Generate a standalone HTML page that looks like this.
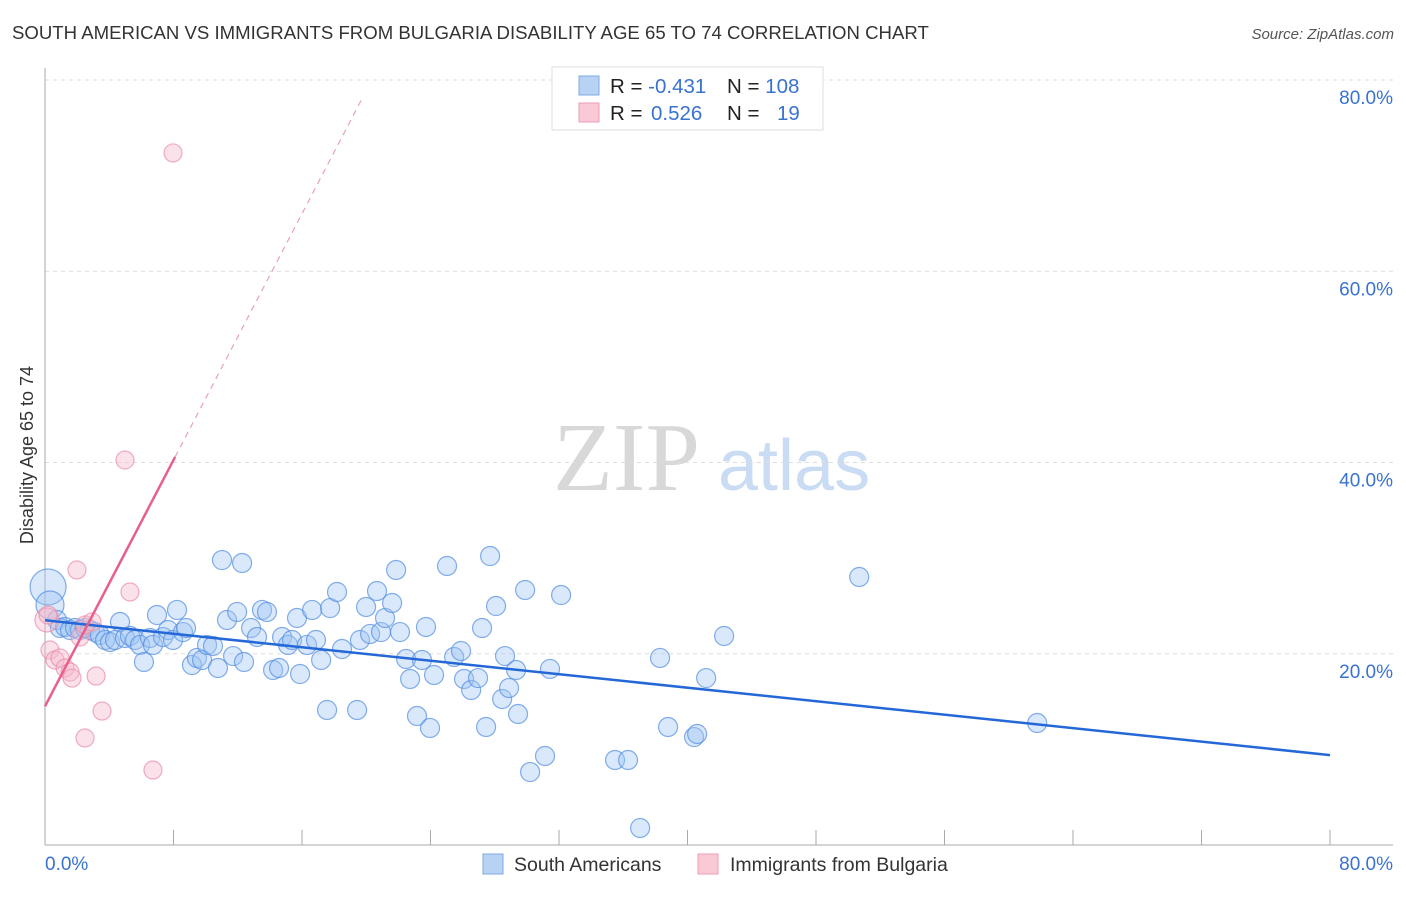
<!DOCTYPE html>
<html><head><meta charset="utf-8"><style>
body{margin:0;background:#fff;font-family:"Liberation Sans",sans-serif}
</style></head><body>
<svg id="chart" width="1406" height="892" viewBox="0 0 1406 892" xmlns="http://www.w3.org/2000/svg" font-family="Liberation Sans, sans-serif">
<text x="12" y="39" font-size="18.6" fill="#333">SOUTH AMERICAN VS IMMIGRANTS FROM BULGARIA DISABILITY AGE 65 TO 74 CORRELATION CHART</text>
<text x="1394" y="39" font-size="15" fill="#555" text-anchor="end" font-style="italic">Source: ZipAtlas.com</text>
<g>
<text x="553" y="490" font-size="98" fill="#d8d8d8" style="font-family:'Liberation Serif',serif">ZIP</text>
<text x="718" y="490" font-size="72" fill="#c9dcf3">atlas</text>
</g>
<g id="grid"></g><g id="axes"></g><g id="marks"></g><g id="lines"></g>
<text transform="translate(33,455) rotate(-90)" font-size="18" fill="#333" text-anchor="middle">Disability Age 65 to 74</text>
<g>
<rect x="552" y="67" width="271" height="63" fill="#fff" stroke="#ddd"/>
<rect x="579" y="76" width="20" height="19" fill="#b8d2f4" stroke="#7eaae6"/>
<rect x="579" y="103" width="20" height="19" fill="#f9c9d6" stroke="#ee9db5"/>
<text x="610" y="93" font-size="20.5" fill="#222">R = <tspan fill="#3a72d0">-0.431</tspan></text>
<text x="727" y="93" font-size="20.5" fill="#222">N = <tspan fill="#3a72d0">108</tspan></text>
<text x="610" y="120" font-size="20.5" fill="#222">R = <tspan fill="#3a72d0" x="651">0.526</tspan></text>
<text x="727" y="120" font-size="20.5" fill="#222">N = <tspan fill="#3a72d0" x="777">19</tspan></text>
</g>
<g>
<rect x="483" y="854" width="20" height="20" fill="#b8d2f4" stroke="#7eaae6"/>
<text x="514" y="871" font-size="19.5" fill="#333">South Americans</text>
<rect x="698" y="854" width="20" height="20" fill="#f9c9d6" stroke="#ee9db5"/>
<text x="730" y="871" font-size="19.5" fill="#333">Immigrants from Bulgaria</text>
</g>
</svg>
<script>
const blueX=[0.19,0.31,0.75,0.93,1.25,1.56,1.87,2.18,2.49,2.8,3.11,3.42,3.74,4.05,4.36,4.67,4.98,5.29,5.6,5.92,6.16,6.54,6.72,6.97,7.35,7.66,7.97,8.22,8.59,8.78,9.15,9.46,9.78,10.09,10.46,10.77,11.02,11.33,11.71,11.96,12.27,12.39,12.83,13.2,13.51,13.82,14.2,14.57,14.76,15.13,15.38,15.69,15.88,16.31,16.63,16.87,17.19,17.56,17.75,18.18,18.49,19.43,19.61,19.99,20.24,20.67,20.92,21.17,21.61,21.86,22.1,22.48,22.73,23.16,23.47,23.72,23.97,24.22,25.03,25.47,25.9,26.09,26.53,26.96,27.21,27.46,27.71,28.08,28.46,28.64,28.89,29.33,29.45,29.89,30.2,31.13,31.44,32.13,35.49,36.3,37.05,38.29,38.79,40.41,40.6,41.16,42.28,50.69,61.77];
const blueY=[26.98,25.1,23.53,22.69,22.8,22.48,22.69,22.48,22.69,22.48,22.27,21.96,21.44,21.23,21.44,23.32,21.65,21.86,21.44,20.92,19.14,21.65,20.92,24.05,21.75,22.48,21.44,24.58,22.27,22.69,18.82,19.56,19.35,20.92,20.81,18.51,29.8,23.53,19.76,24.37,29.49,19.14,22.69,21.75,24.58,24.37,18.3,18.51,21.75,20.92,21.44,23.74,17.88,20.92,24.58,21.44,19.35,14.12,24.78,26.46,20.5,14.12,21.44,24.89,22.07,26.56,22.27,23.74,25.31,28.76,22.27,19.45,17.36,13.49,19.35,22.8,12.24,17.78,29.18,19.66,20.29,17.36,16.21,17.46,22.69,12.34,30.22,24.99,15.27,19.76,16.42,18.3,13.7,26.67,7.63,9.31,18.41,26.14,8.89,8.89,1.78,19.56,12.34,11.29,11.61,17.46,21.86,28.03,12.76];
const pinkX=[0.12,0.31,0.62,0.93,1.25,1.56,1.68,1.99,2.18,2.49,2.93,3.18,3.55,2.49,4.98,5.29,6.72,7.97,0.19];
const pinkY=[23.53,20.39,19.35,19.56,18.51,18.09,17.46,28.76,21.75,23.01,23.32,17.67,14.01,11.19,40.26,26.46,7.84,72.37,24.05];
const yTicks=[20,40,60,80];
const xTickVals=[0,8,16,24,32,40,48,56,64,72,80];
const blueTrend=[23.5,9.4]; // y at x=0 and x=80
const pinkTrend=[14.5,3.22]; // intercept, slope
const NS="http://www.w3.org/2000/svg";
const sx=v=>45+v*1285/80, sy=v=>845-v*765/80;
function mk(t,a,p){const e=document.createElementNS(NS,t);for(const k in a)e.setAttribute(k,a[k]);p.appendChild(e);return e;}
const grid=document.getElementById('grid'),axes=document.getElementById('axes'),marks=document.getElementById('marks'),lines=document.getElementById('lines');
yTicks.forEach(v=>{
 const l=mk('line',{x1:45,x2:1393,y1:sy(v),y2:sy(v),stroke:'#ddd','stroke-dasharray':'4,4'},grid);
 
 
 const t=mk('text',{x:1393,y:sy(v)+24,'font-size':19,fill:'#3a72d0','text-anchor':'end'},axes);
 t.textContent=v.toFixed(1)+'%';
 
 
});
const ya=mk('line',{x1:45,x2:45,y1:68,y2:845,stroke:'#aaa'},axes);


const xa=mk('line',{x1:45,x2:1393,y1:845,y2:845,stroke:'#aaa'},axes);


xTickVals.forEach(v=>{
 const l=mk('line',{x1:sx(v),x2:sx(v),y1:830,y2:845,stroke:'#aaa'},axes);
 
 
});
[[0,'start'],[80,'end']].forEach(([v,a])=>{
 const t=mk('text',{x:a==='start'?sx(v):1393,y:870,'font-size':19,fill:'#3a72d0','text-anchor':a},axes);
 t.textContent=v.toFixed(1)+'%';
 
 
});
blueX.forEach((x,i)=>{
 const c=mk('circle',{cx:sx(x),cy:sy(blueY[i]),r:i===0?18:(i===1?14:9.5),fill:'rgba(160,198,242,0.4)',stroke:'rgba(80,140,225,0.7)','stroke-width':1.2},marks);
 
 
});
pinkX.forEach((x,i)=>{
 const c=mk('circle',{cx:sx(x),cy:sy(pinkY[i]),r:i===0?12:9,fill:'rgba(246,185,205,0.42)',stroke:'rgba(232,140,168,0.7)','stroke-width':1.2},marks);
 
 
});
const bl=mk('line',{x1:sx(0),y1:sy(blueTrend[0]),x2:sx(80),y2:sy(blueTrend[1]),stroke:'#2468d8','stroke-width':2.5},lines);


const pe=8.1, pd=19.7;
const pl=mk('line',{x1:sx(0),y1:sy(pinkTrend[0]),x2:sx(pe),y2:sy(pinkTrend[0]+pinkTrend[1]*pe),stroke:'#e8608a','stroke-width':2.5},lines);


const pdl=mk('line',{x1:sx(pe),y1:sy(pinkTrend[0]+pinkTrend[1]*pe),x2:sx(pd),y2:sy(pinkTrend[0]+pinkTrend[1]*pd),stroke:'#eaa0b8','stroke-width':1.2,'stroke-dasharray':'6,5'},lines);


</script>
</body></html>
